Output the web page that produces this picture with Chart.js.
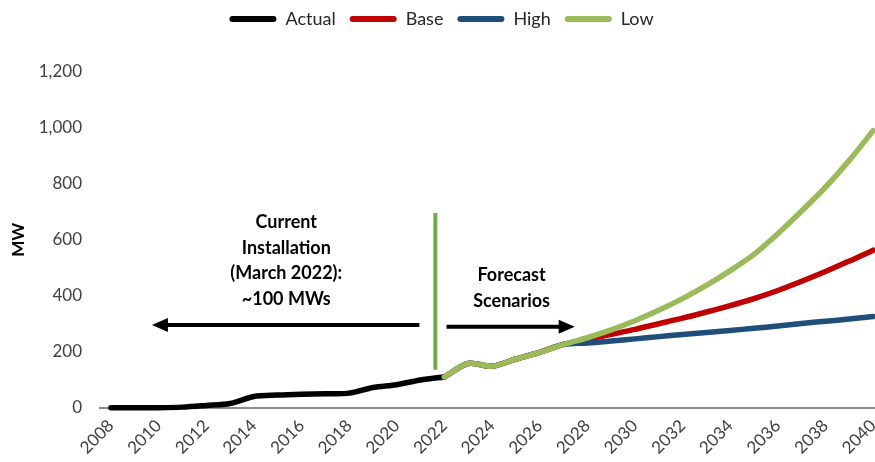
<!DOCTYPE html>
<html lang="en">
  <head>
    <title>MW forecast</title>
    <meta charset="utf-8">
    <script type="text/javascript" src="https://cdn.jsdelivr.net/npm/chart.js@4/dist/chart.umd.min.js"></script>
    <style>
      body { margin: 0; background: #fff; }
      #wrap { width: 875px; height: 462px; }
    </style>
  </head>
  <body>
    <div id="wrap"><canvas id="chart_mw"></canvas></div>

    <script type="text/javascript">
      // years on the x axis
      const years = [2008, 2009, 2010, 2011, 2012, 2013, 2014, 2015, 2016, 2017, 2018,
                     2019, 2020, 2021, 2022, 2023, 2024, 2025, 2026, 2027, 2028, 2029,
                     2030, 2031, 2032, 2033, 2034, 2035, 2036, 2037, 2038, 2039, 2040];
      // installed MW, 2008 - 2022
      const actual = [0, 0, 0, 2, 8, 15, 40, 45, 48, 50, 52, 72, 82, 99, 110];
      // forecast scenarios, 2022 - 2040
      const base = [110, 158, 148, 174, 198, 226, 244, 262, 280, 300, 320, 342, 365, 390, 419, 452, 487, 524, 563];
      const high = [110, 158, 148, 174, 198, 226, 231, 238, 246, 254, 262, 269, 276, 284, 292, 301, 309, 317, 326];
      const low  = [110, 158, 148, 174, 198, 226, 250, 278, 311, 348, 390, 437, 490, 548, 622, 703, 788, 884, 990];
      const yTicks = [0, 200, 400, 600, 800, 1000, 1200];

      const FONT = "Lato, 'Noto Sans', sans-serif";

      // pair the values with their years
      function points(values, firstYear) {
        let start = years.indexOf(firstYear);
        return values.map((v, i) => ({ x: years[start + i], y: v }));
      }

      function series(label, values, firstYear, color, order) {
        return {
          label: label,
          data: points(values, firstYear),
          borderColor: color,
          backgroundColor: color,
          borderWidth: 5.5,
          pointRadius: 0,
          tension: 0.3,
          borderCapStyle: 'round',
          borderJoinStyle: 'round',
          clip: 6,
          order: order
        };
      }

      // more room under the legend
      const legendGap = {
        id: 'legendGap',
        beforeInit(chart) {
          const fit = chart.legend.fit;
          chart.legend.fit = function () {
            fit.bind(chart.legend)();
            this.height += 34;
          };
        }
      };

      // text boxes, arrows and the green divider, placed in data units
      const notes = {
        id: 'notes',
        afterDatasetsDraw(chart) {
          const ctx = chart.ctx;
          const x = chart.scales.x, y = chart.scales.y;
          ctx.save();

          // divider
          ctx.strokeStyle = '#70AD47';
          ctx.lineWidth = 4;
          ctx.beginPath();
          ctx.moveTo(x.getPixelForValue(2021.62), y.getPixelForValue(696));
          ctx.lineTo(x.getPixelForValue(2021.62), y.getPixelForValue(136));
          ctx.stroke();

          // arrows
          function arrow(x0, x1, v) {
            let px0 = x.getPixelForValue(x0), px1 = x.getPixelForValue(x1);
            let py = y.getPixelForValue(v);
            let dir = px1 > px0 ? 1 : -1;
            ctx.strokeStyle = '#000';
            ctx.fillStyle = '#000';
            ctx.lineWidth = 4;
            ctx.beginPath();
            ctx.moveTo(px0, py);
            ctx.lineTo(px1 - dir * 12, py);
            ctx.stroke();
            ctx.beginPath();
            ctx.moveTo(px1, py);
            ctx.lineTo(px1 - dir * 16, py - 7);
            ctx.lineTo(px1 - dir * 16, py + 7);
            ctx.closePath();
            ctx.fill();
          }
          arrow(2020.95, 2009.72, 296);
          arrow(2022.09, 2027.47, 289);

          // labels
          ctx.fillStyle = '#000';
          ctx.font = "bold 18px " + FONT;
          ctx.textAlign = 'center';
          ctx.textBaseline = 'middle';
          let lines1 = ['Current', 'Installation', '(March 2022):', '~100 MWs'];
          let cx = x.getPixelForValue(2015.36), cy = y.getPixelForValue(662);
          lines1.forEach((t, i) => ctx.fillText(t, cx, cy + i * 25.5));
          let lines2 = ['Forecast', 'Scenarios'];
          cx = x.getPixelForValue(2024.82);
          cy = y.getPixelForValue(475);
          lines2.forEach((t, i) => ctx.fillText(t, cx, cy + i * 26));
          ctx.restore();
        }
      };

      chart = new Chart("chart_mw", {
        type: "line",
        data: {
          datasets: [
            series('Actual', actual, 2008, '#000000', 3),
            series('Base', base, 2022, '#C00000', 2),
            series('High', high, 2022, '#1F4E79', 1),
            series('Low', low, 2022, '#9BBB59', 0)
          ]
        },
        options: {
          responsive: true,
          maintainAspectRatio: false,
          animation: false,
          layout: { padding: { left: 8, right: 0, top: -4, bottom: -4 } },
          plugins: {
            tooltip: { enabled: false },
            legend: {
              position: 'top',
              labels: {
                font: { family: FONT, size: 18 },
                color: '#262626',
                boxWidth: 47,
                boxHeight: 6,
                padding: 14,
                useBorderRadius: true,
                borderRadius: 3,
                sort: (a, b) => a.datasetIndex - b.datasetIndex,
                generateLabels(chart) {
                  return chart.data.datasets.map((ds, i) => ({
                    text: ds.label,
                    fillStyle: ds.borderColor,
                    strokeStyle: ds.borderColor,
                    lineWidth: 0,
                    fontColor: '#262626',
                    borderRadius: 3,
                    datasetIndex: i
                  }));
                }
              }
            }
          },
          scales: {
            x: {
              type: 'linear',
              min: 2007.54,
              max: 2040.08,
              grid: { display: false, drawTicks: false },
              border: { display: true, color: '#8C8C8C', width: 2 },
              afterFit: (s) => { s.paddingLeft = 0; s.paddingRight = 0; },
              ticks: {
                stepSize: 2,
                includeBounds: false,
                autoSkip: false,
                maxRotation: 45,
                minRotation: 45,
                padding: 8,
                color: '#404040',
                font: { family: FONT, size: 17 },
                callback: (v) => String(v)
              }
            },
            y: {
              min: 0,
              max: 1200,
              afterBuildTicks: (axis) => { axis.ticks = yTicks.map(v => ({ value: v })); },
              afterFit: (s) => { s.width = 92; },
              grid: { display: false, drawTicks: false },
              border: { display: false },
              title: {
                display: true,
                text: 'MW',
                color: '#000',
                font: { family: FONT, size: 17, weight: 'bold' },
                padding: { top: 0, bottom: 12 }
              },
              ticks: {
                padding: 18,
                color: '#404040',
                font: { family: FONT, size: 17 },
                callback: (v) => v.toLocaleString('en-US')
              }
            }
          }
        },
        plugins: [legendGap, notes]
      });
    </script>
  </body>
</html>
